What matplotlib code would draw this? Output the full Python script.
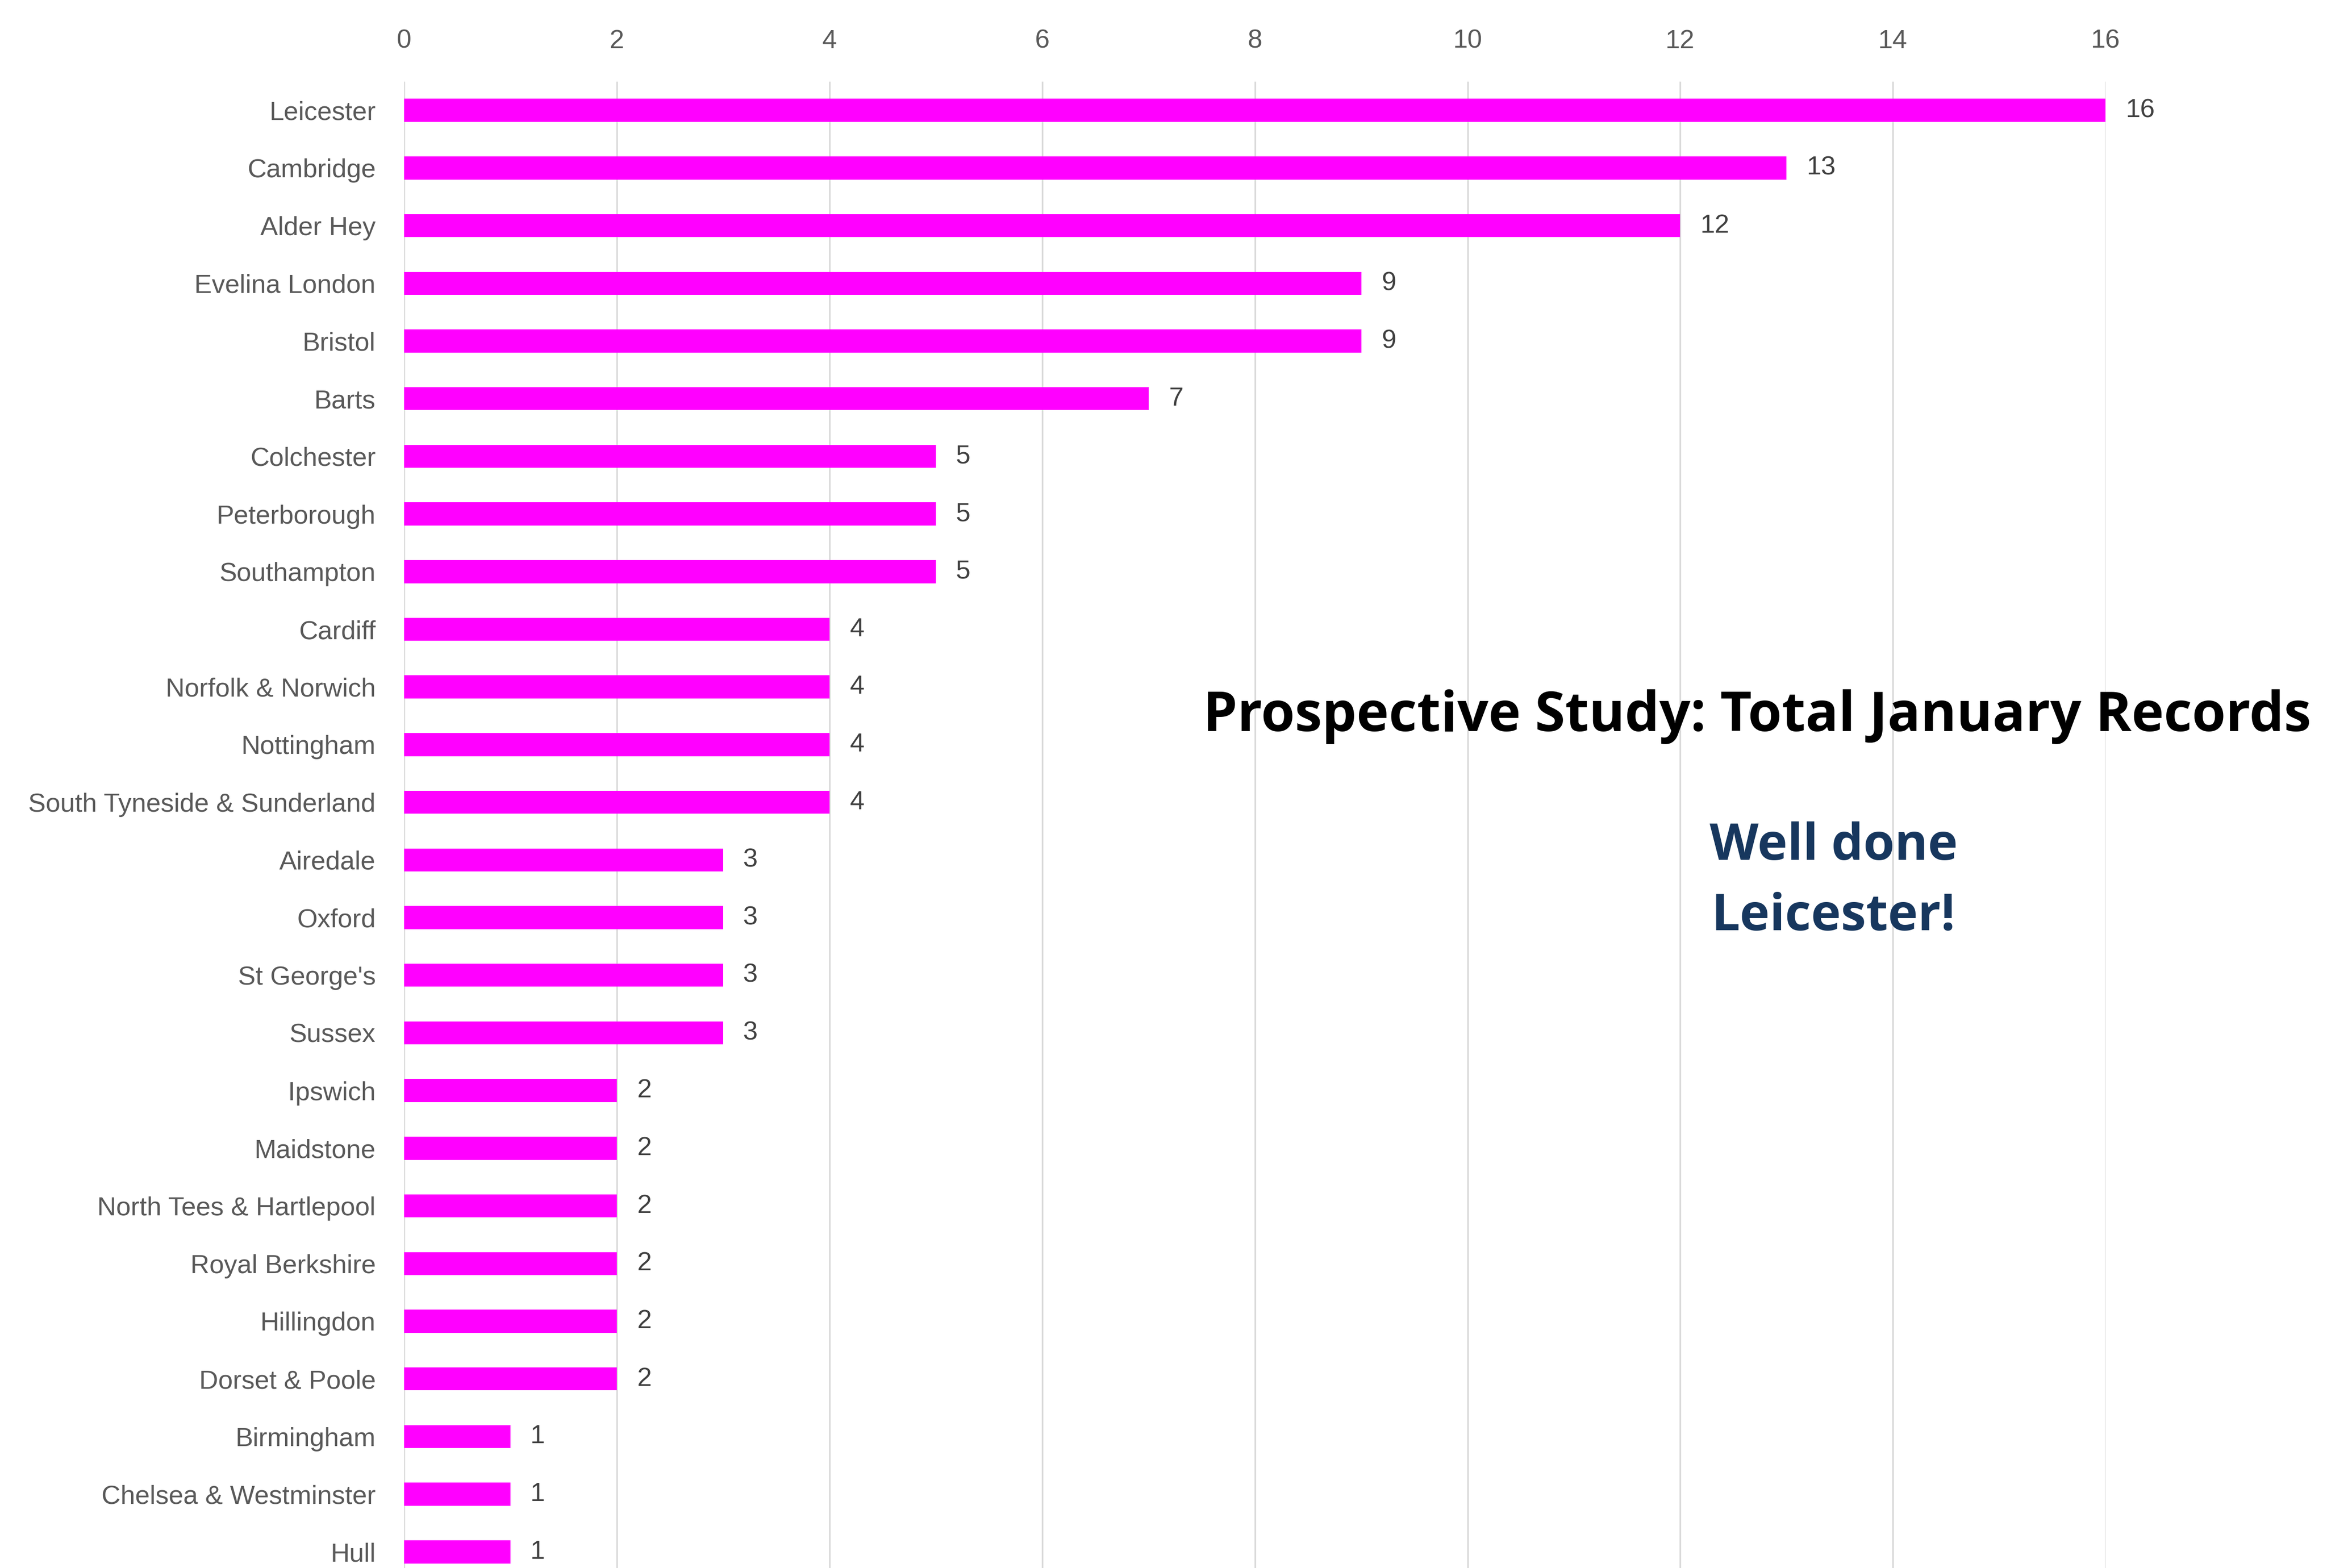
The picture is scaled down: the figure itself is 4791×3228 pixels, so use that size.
import numpy as np
import matplotlib.pyplot as plt

# hospital sites and their January record counts
sites = ["Leicester", "Cambridge", "Alder Hey", "Evelina London", "Bristol", "Barts",
         "Colchester", "Peterborough", "Southampton", "Cardiff", "Norfolk & Norwich",
         "Nottingham", "South Tyneside & Sunderland", "Airedale", "Oxford", "St George's",
         "Sussex", "Ipswich", "Maidstone", "North Tees & Hartlepool", "Royal Berkshire",
         "Hillingdon", "Dorset & Poole", "Birmingham", "Chelsea & Westminster", "Hull"]
records = [16, 13, 12, 9, 9, 7, 5, 5, 5, 4, 4, 4, 4, 3, 3, 3, 3, 2, 2, 2, 2, 2, 2, 1, 1, 1]
xticks = [0, 2, 4, 6, 8, 10, 12, 14, 16]

label_font = ["Liberation Sans", "DejaVu Sans"]

fig = plt.figure(figsize=(15.97, 10.76), dpi=300)
ax = fig.add_axes([0.1736, 0.0, 0.9049 - 0.1736, 0.948])

ypos = np.arange(len(sites))
ax.barh(ypos, records, height=0.4, color="#FF00FF", zorder=3)

# value labels to the right of each bar
for y, v in zip(ypos, records):
    ax.annotate(str(v), (v, y), xytext=(10, 0), textcoords="offset points",
                ha="left", va="center", fontsize=13, color="#404040", family=label_font)

ax.set_xlim(0, 16)
ax.set_ylim(25.28, -0.5)
ax.set_xticks(xticks)
ax.set_yticks(ypos)
ax.set_yticklabels(sites, family=label_font, fontsize=13, color="#595959")
ax.set_xticklabels([str(t) for t in xticks], family=label_font, fontsize=13, color="#595959")
ax.xaxis.tick_top()
ax.tick_params(axis="x", length=0, pad=14)
ax.tick_params(axis="y", length=0, pad=14)
ax.grid(axis="x", color="#D9D9D9", linewidth=0.8, zorder=0)
for s in ax.spines.values():
    s.set_visible(False)

fig.text(0.755, 0.543, "Prospective Study: Total January Records", ha="center", va="center",
         fontsize=27, fontweight="bold", family="Open Sans", color="black")
fig.text(0.788, 0.460, "Well done", ha="center", va="center",
         fontsize=25, fontweight="bold", family="Open Sans", color="#17375E")
fig.text(0.788, 0.415, "Leicester!", ha="center", va="center",
         fontsize=25, fontweight="bold", family="Open Sans", color="#17375E")

fig.savefig("out.png", dpi=300, facecolor="white")
